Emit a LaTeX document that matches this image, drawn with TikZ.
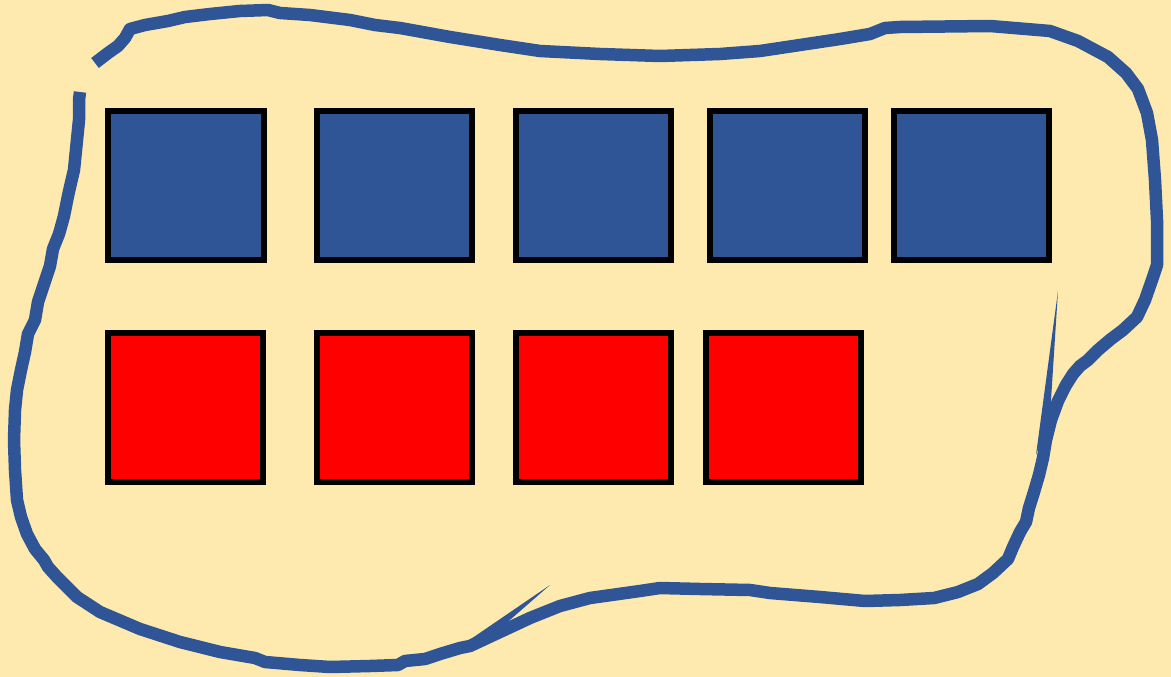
\documentclass[tikz,border=0pt]{standalone}
\usepackage{tikz}
\usetikzlibrary{positioning}
\definecolor{sand}{RGB}{254,234,174}
\definecolor{loopblue}{RGB}{47,85,151}
\definecolor{sqred}{RGB}{255,0,0}

\begin{document}
\begin{tikzpicture}[x=1pt,y=-1pt,
    tile/.style={draw=black, line width=6pt, minimum width=155pt, minimum height=149pt, inner sep=0pt},
    bluetile/.style={tile, fill=loopblue},
    redtile/.style={tile, fill=sqred},
    lasso/.style={draw=loopblue, line width=12.5pt, line join=round}]
    % background
    \fill[sand] (0,0) rectangle (1171,677);
    % top row
    \node[bluetile, minimum width=156pt] (b1) at (186,185.5) {};
    \foreach \i/\x in {2/394.5,3/593.5,4/787.5,5/971.5}
      \node[bluetile] (b\i) at (\x,185.5) {};
    % bottom row
    \foreach \i/\x in {1/185.5,2/394.5,3/593.5,4/783.5}
      \node[redtile] (r\i) at (\x,407.5) {};
    % freehand loop
    \draw[lasso] (95,63) -- (108,53) -- (118,46) -- (125,38) -- (130,29) -- (145,25) -- (168,21)
      -- (185,17) -- (210,14) -- (240,11) -- (268,10) -- (280,13) -- (310,15) -- (350,20)
      -- (375,25) -- (400,28) -- (450,37) -- (500,45) -- (540,51) -- (600,54) -- (660,56)
      -- (720,54) -- (760,51) -- (800,45) -- (840,39) -- (870,34) -- (885,28) -- (900,27)
      -- (990,26) -- (1050,31) -- (1078,41) -- (1108,57) -- (1126,73) -- (1138,89)
      -- (1147,113) -- (1152,140) -- (1155,180) -- (1157,220) -- (1157,265) -- (1152,280)
      -- (1145,300) -- (1137,317) -- (1123,330) -- (1111,339) -- (1098,350) -- (1088,360)
      -- (1080,366) -- (1073,374) -- (1066,385) -- (1058,401) -- (1051,420) -- (1046,440)
      -- (1043,458) -- (1039,475) -- (1034,492) -- (1029,508) -- (1026,522) -- (1020,532)
      -- (1013,547) -- (1008,559) -- (993,573) -- (978,584) -- (958,592) -- (934,598)
      -- (900,600) -- (865,601) -- (820,597) -- (770,593) -- (750,590) -- (700,589)
      -- (660,588) -- (640,591) -- (590,598) -- (560,606) -- (530,618) -- (500,632)
      -- (470,646) -- (460,648) -- (440,654) -- (425,659) -- (405,661) -- (398,665)
      -- (370,666) -- (330,667) -- (300,665) -- (265,662) -- (255,658) -- (220,652)
      -- (180,642) -- (140,629) -- (100,612) -- (77,597) -- (67,587) -- (57,577)
      -- (48,567) -- (44,560) -- (35,549) -- (27,534) -- (21,517) -- (17,500) -- (15,470)
      -- (14,440) -- (15,410) -- (17,390) -- (21,370) -- (25,352) -- (28,334) -- (35,320)
      -- (38,302) -- (44,284) -- (50,266) -- (53,249) -- (59,234) -- (64,216) -- (68,196)
      -- (70,187) -- (74,170) -- (77,140) -- (79,120) -- (79,100) -- (80,92);
    % spikes
    \fill[loopblue] (1036,455) -- (1058,291) -- (1050,416) -- cycle;
    \fill[loopblue] (465,643) -- (550,585) -- (503,626) -- cycle;
\end{tikzpicture}
\end{document}
